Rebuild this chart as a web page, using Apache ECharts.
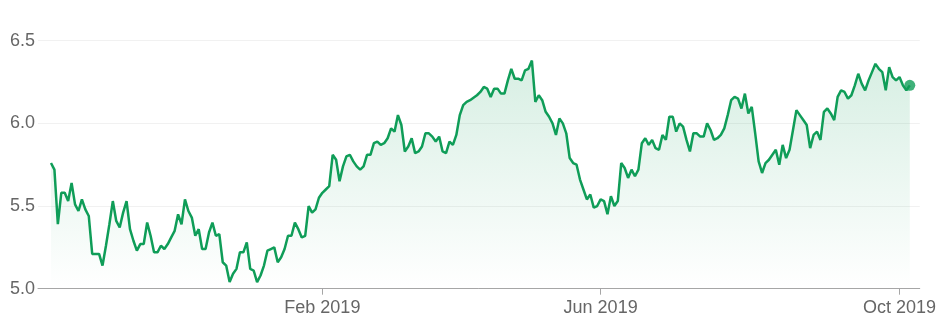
<!DOCTYPE html>
<html>
<head>
<meta charset="utf-8">
<script src="https://cdn.jsdelivr.net/npm/echarts@6/dist/echarts.min.js"></script>
<style>
html,body{margin:0;padding:0;background:#fff;}
#chart{width:939px;height:329px;}
</style>
</head>
<body>
<div id="chart"></div>
<script>
// Daily closing prices (trading-day order)
const prices = [
5.76,5.72,5.39,5.58,5.58,5.53,5.64,5.51,5.47,5.54,
5.48,5.44,5.21,5.21,5.21,5.14,5.26,5.39,5.53,5.41,
5.37,5.46,5.53,5.36,5.29,5.23,5.27,5.27,5.40,5.32,
5.22,5.22,5.26,5.24,5.27,5.31,5.35,5.45,5.39,5.54,
5.47,5.43,5.32,5.36,5.24,5.24,5.34,5.40,5.32,5.33,
5.16,5.14,5.04,5.09,5.12,5.22,5.22,5.28,5.12,5.11,
5.04,5.08,5.14,5.23,5.24,5.25,5.16,5.19,5.24,5.32,
5.32,5.40,5.36,5.31,5.32,5.50,5.46,5.48,5.55,5.58,
5.60,5.62,5.81,5.78,5.65,5.74,5.80,5.81,5.77,5.74,
5.72,5.74,5.81,5.81,5.88,5.89,5.87,5.88,5.91,5.97,
5.95,6.05,5.99,5.83,5.86,5.91,5.82,5.83,5.86,5.94,
5.94,5.92,5.89,5.92,5.83,5.82,5.89,5.87,5.93,6.05,
6.11,6.13,6.14,6.155,6.17,6.19,6.22,6.21,6.16,6.21,
6.21,6.18,6.18,6.26,6.33,6.27,6.27,6.26,6.32,6.33,
6.38,6.13,6.17,6.14,6.07,6.04,6.00,5.93,6.03,6.00,
5.94,5.79,5.76,5.75,5.66,5.60,5.54,5.57,5.49,5.50,
5.54,5.53,5.45,5.56,5.50,5.53,5.76,5.73,5.67,5.72,
5.68,5.72,5.88,5.91,5.87,5.90,5.85,5.84,5.93,5.90,
6.04,6.04,5.95,6.00,5.98,5.90,5.83,5.94,5.94,5.92,
5.92,6.00,5.96,5.90,5.91,5.93,5.97,6.05,6.14,6.16,
6.15,6.09,6.18,6.06,6.10,5.94,5.77,5.70,5.76,5.78,
5.81,5.84,5.75,5.87,5.79,5.84,5.96,6.08,6.05,6.02,
5.99,5.85,5.93,5.95,5.90,6.07,6.09,6.06,6.02,6.16,
6.20,6.19,6.15,6.17,6.23,6.30,6.24,6.20,6.26,6.31,
6.36,6.33,6.31,6.20,6.34,6.28,6.26,6.28,6.23,6.20,
6.23
];
// x-axis tick labels and the trading-day index where each one sits
const tickLabels = ['Feb 2019', 'Jun 2019', 'Oct 2019'];
const tickDays = [79, 160, 247];
// y-axis range
const yMin = 5.0, yMax = 6.5, yStep = 0.5;

const lineData = prices.map((v, i) => [i, v]);
const lastIdx = prices.length - 1;
const green = '#0f9d58';
const font = '"Liberation Sans", Arial, sans-serif';

const chart = echarts.init(document.getElementById('chart'), null, {renderer: 'canvas'});
chart.setOption({
  animation: false,
  backgroundColor: '#ffffff',
  grid: {left: 38, right: 19, top: 40.7, bottom: 40.3, containLabel: false},
  xAxis: {
    type: 'value',
    min: -3.78,
    max: 252.9,
    splitLine: {show: false},
    axisLine: {show: true, lineStyle: {color: '#a6a6a6', width: 1}},
    axisTick: {show: true, customValues: tickDays, length: 6, lineStyle: {color: '#a6a6a6'}},
    axisLabel: {
      show: true,
      customValues: tickDays,
      margin: 10,
      color: '#666666',
      fontSize: 18,
      fontFamily: font,
      formatter: function (v) {
        const k = tickDays.indexOf(Math.round(v));
        return k >= 0 ? tickLabels[k] : '';
      }
    }
  },
  yAxis: {
    type: 'value',
    min: yMin,
    max: yMax,
    interval: yStep,
    axisLine: {show: false},
    axisTick: {show: false},
    splitLine: {show: true, lineStyle: {color: '#f1f1f1', width: 1}},
    axisLabel: {
      margin: 3,
      color: '#666666',
      fontSize: 18,
      fontFamily: font,
      formatter: function (v) { return v.toFixed(1); }
    }
  },
  series: [
    {
      type: 'line',
      data: lineData,
      showSymbol: false,
      symbol: 'none',
      lineStyle: {color: green, width: 2.5},
      areaStyle: {
        origin: 'start',
        color: new echarts.graphic.LinearGradient(0, 0, 0, 1, [
          {offset: 0, color: 'rgba(15,157,88,0.24)'},
          {offset: 1, color: 'rgba(15,157,88,0)'}
        ])
      },
      z: 2
    },
    {
      type: 'scatter',
      data: [[lastIdx, prices[lastIdx]]],
      symbol: 'circle',
      symbolSize: 11,
      itemStyle: {color: green},
      z: 3
    }
  ]
});
</script>
</body>
</html>
